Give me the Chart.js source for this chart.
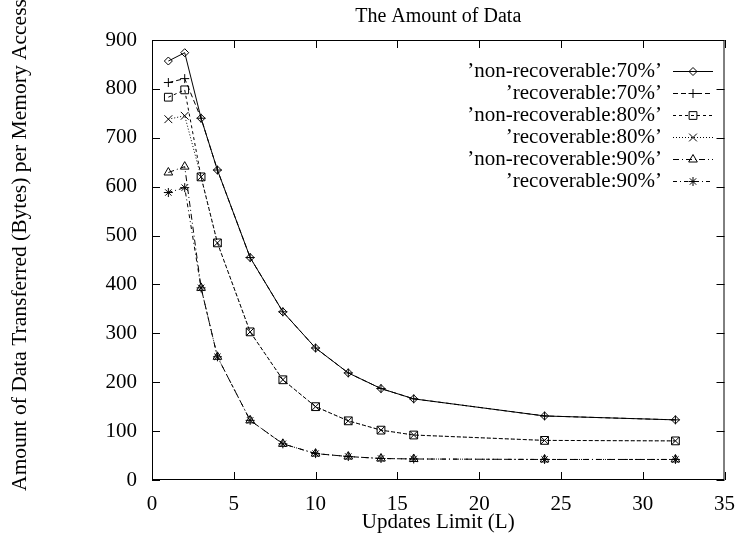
<!DOCTYPE html>
<html>
<head>
<meta charset="utf-8">
<script src="https://cdn.jsdelivr.net/npm/chart.js@4.4.0/dist/chart.umd.min.js"></script>
<style>
  body { margin: 0; background: #fff; }
  canvas { display: block; }
</style>
</head>
<body>
<canvas id="amountChart" width="747" height="541"></canvas>
<script>
// values
var updateLimits = [1, 2, 3, 4, 6, 8, 10, 12, 14, 16, 24, 32];
var nonRecoverable70 = [857, 874, 740, 634, 455, 344, 270, 219, 187, 166, 131, 123];
var recoverable70    = [813, 821, 740, 634, 455, 344, 270, 219, 187, 166, 131, 123];
var nonRecoverable80 = [783, 798, 620, 485, 303, 205, 150, 121, 102, 92, 81, 80];
var recoverable80    = [738, 745, 620, 485, 303, 205, 150, 121, 102, 92, 81, 80];
var nonRecoverable90 = [629, 641, 393, 252, 122, 74, 54, 48, 44, 43, 42, 42];
var recoverable90    = [588, 598, 393, 252, 122, 74, 54, 48, 44, 43, 42, 42];

var seriesLabels = ['\u2019non-recoverable:70%\u2019', '\u2019recoverable:70%\u2019',
  '\u2019non-recoverable:80%\u2019', '\u2019recoverable:80%\u2019',
  '\u2019non-recoverable:90%\u2019', '\u2019recoverable:90%\u2019'];
var xTickValues = [0, 5, 10, 15, 20, 25, 30, 35];
var yTickValues = [0, 100, 200, 300, 400, 500, 600, 700, 800, 900];

var chartTitle = 'The Amount of Data';
var xAxisTitle = 'Updates Limit (L)';
var yAxisTitle = 'Amount of Data Transferred (Bytes) per Memory Access';

var serif = '"Liberation Serif", "Times New Roman", serif';

var seriesValues = [nonRecoverable70, recoverable70, nonRecoverable80, recoverable80, nonRecoverable90, recoverable90];
var pointStyles = ['rectRot', 'cross', 'rect', 'crossRot', 'triangle', 'star'];
var pointSizes = [4, 4.5, 5.5, 5.5, 5, 4.5];
var dashes = [[], [5, 3], [3, 3], [1, 2], [6, 3, 1, 3], [4, 3, 1, 3]];

function toPoints(values){
  return values.map(function(v, i){ return {x: updateLimits[i], y: v}; });
}

var datasets = seriesValues.map(function(values, i){
  return {
    label: seriesLabels[i],
    data: toPoints(values),
    borderColor: '#000',
    borderWidth: 1,
    borderDash: dashes[i],
    tension: 0,
    fill: false,
    pointStyle: pointStyles[i],
    pointRadius: pointSizes[i],
    pointBorderWidth: 1,
    pointBorderColor: '#000',
    pointBackgroundColor: 'rgba(0,0,0,0)'
  };
});

// border, inward ticks on all sides, titles and key the way gnuplot draws them
var gnuplotFrame = {
  id: 'gnuplotFrame',
  afterDatasetsDraw: function(chart){
    var ctx = chart.ctx;
    var area = chart.chartArea;
    var xs = chart.scales.x;
    var ys = chart.scales.y;
    var tickLen = 8;
    ctx.save();
    ctx.strokeStyle = '#000';
    ctx.lineWidth = 1;
    ctx.setLineDash([]);
    ctx.strokeRect(area.left + 0.5, area.top + 0.5, area.right - area.left - 1, area.bottom - area.top - 1);
    ctx.beginPath();
    xs.ticks.forEach(function(t){
      var px = Math.round(xs.getPixelForValue(t.value)) + 0.5;
      ctx.moveTo(px, area.bottom);
      ctx.lineTo(px, area.bottom - tickLen);
      ctx.moveTo(px, area.top);
      ctx.lineTo(px, area.top + tickLen);
    });
    ys.ticks.forEach(function(t){
      var py = Math.round(ys.getPixelForValue(t.value)) + 0.5;
      ctx.moveTo(area.left, py);
      ctx.lineTo(area.left + tickLen, py);
      ctx.moveTo(area.right, py);
      ctx.lineTo(area.right - tickLen, py);
    });
    ctx.stroke();

    ctx.fillStyle = '#000';
    ctx.font = '20px ' + serif;
    ctx.textAlign = 'center';
    ctx.textBaseline = 'middle';
    ctx.fillText(chartTitle, (area.left + area.right) / 2, 17);

    // y label sits a bit above the plot centre and runs up to the top edge
    ctx.save();
    ctx.font = '21.5px ' + serif;
    ctx.translate(20, 245);
    ctx.rotate(-Math.PI / 2);
    ctx.fillText(yAxisTitle, 0, 0);
    ctx.restore();

    // key
    ctx.font = '21px ' + serif;
    ctx.textAlign = 'right';
    chart.data.datasets.forEach(function(ds, i){
      var rowY = 71 + i * 22;
      ctx.setLineDash([]);
      ctx.fillStyle = '#000';
      ctx.fillText(ds.label, 662, rowY);
      ctx.setLineDash(ds.borderDash);
      ctx.beginPath();
      ctx.moveTo(673, rowY + 0.5);
      ctx.lineTo(713, rowY + 0.5);
      ctx.stroke();
      ctx.setLineDash([]);
      ctx.fillStyle = 'rgba(0,0,0,0)';
      Chart.helpers.drawPoint(ctx, {pointStyle: ds.pointStyle, rotation: 0, radius: ds.pointRadius, borderWidth: 1}, 693, rowY + 0.5);
    });
    ctx.restore();
  }
};

var amountChart = new Chart(document.getElementById('amountChart'), {
  type: 'line',
  data: { datasets: datasets },
  plugins: [gnuplotFrame],
  options: {
    responsive: false,
    animation: false,
    layout: { padding: { top: 40, right: 12, left: 0, bottom: 0 } },
    plugins: {
      legend: { display: false },
      title: { display: false },
      tooltip: { enabled: false }
    },
    scales: {
      x: {
        type: 'linear',
        min: 0,
        max: 35,
        afterFit: function(scale){ scale.height = 61; },
        afterBuildTicks: function(scale){ scale.ticks = xTickValues.map(function(v){ return {value: v}; }); },
        grid: { display: false, drawTicks: false },
        border: { display: false },
        ticks: { color: '#000', font: { family: serif, size: 21 }, padding: 12, maxRotation: 0 },
        title: { display: true, text: xAxisTitle, color: '#000', font: { family: serif, size: 21 }, padding: { top: 0, bottom: 6 } }
      },
      y: {
        type: 'linear',
        min: 0,
        max: 900,
        afterFit: function(scale){ scale.width = 152; },
        afterBuildTicks: function(scale){ scale.ticks = yTickValues.map(function(v){ return {value: v}; }); },
        grid: { display: false, drawTicks: false },
        border: { display: false },
        ticks: { color: '#000', font: { family: serif, size: 21 }, padding: 15 }
      }
    }
  }
});
</script>
</body>
</html>
